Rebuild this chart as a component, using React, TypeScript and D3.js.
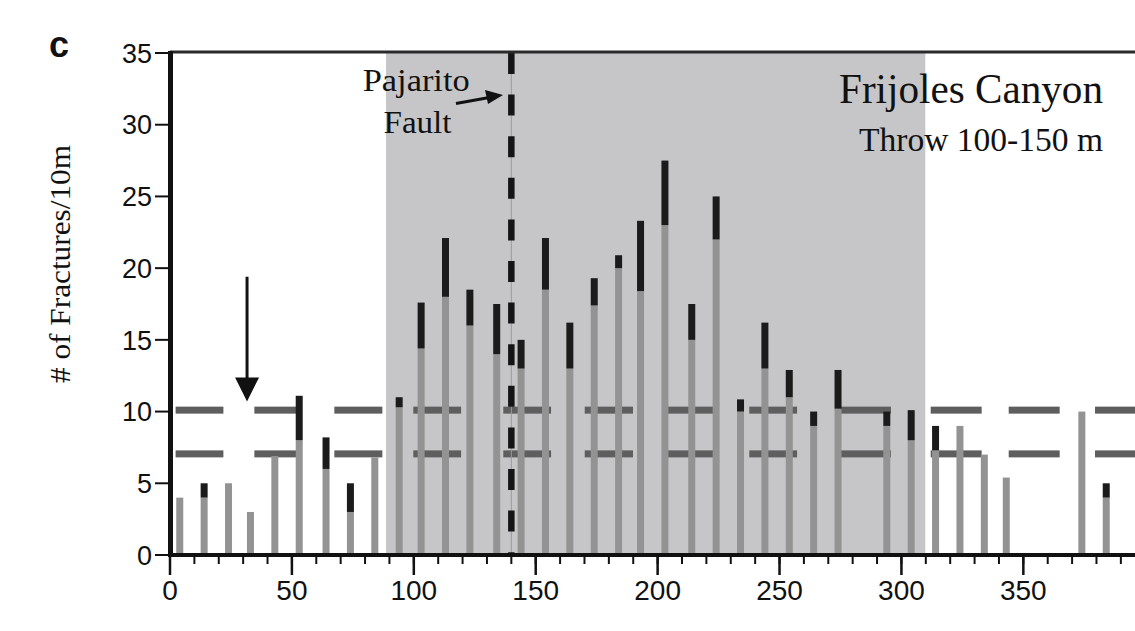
import React from "react";
import * as d3 from "d3";

// distance along transect (m)
const positions = [4, 14, 24, 33, 43, 53, 64, 74, 84, 94, 103, 113, 123, 134, 144, 154, 164, 174, 184, 193, 203, 214, 224, 234, 244, 254, 264, 274, 294, 304, 314, 324, 334, 343, 374, 384];
// lower (gray) part of each bar
const grayValues = [4, 4, 5, 3, 6.9, 8, 6, 3, 6.8, 10.3, 14.4, 18, 16, 14, 13, 18.5, 13, 17.4, 20, 18.4, 23, 15, 22, 10, 13, 11, 9, 10.2, 9, 8, 7.3, 9, 7, 5.4, 10, 4];
// total height (gray + black)
const totalValues = [4, 5, 5, 3, 6.9, 11.1, 8.2, 5, 6.8, 11, 17.6, 22.1, 18.5, 17.5, 15, 22.1, 16.2, 19.3, 20.9, 23.3, 27.5, 17.5, 25, 10.85, 16.2, 12.9, 10, 12.9, 10, 10.1, 9, 9, 7, 5.4, 10, 5];

const thresholdLevels = [10.1, 7.05];
const thresholdDashes: [number, number][] = [
  [2.3, 21.9], [34.6, 54.0], [67.4, 87.1], [99.8, 119.4], [136.7, 156.3], [170.1, 189.9],
  [202.7, 222.8], [237.6, 257.2], [275.1, 295.7], [312.0, 332.9], [344.0, 364.9], [379.4, 400],
];
const damageZone = [88.6, 309.8];
const faultPosition = 140;
const markerArrow = { x: 31.6, from: 19.4, to: 10.7 };

const yTicks = [0, 5, 10, 15, 20, 25, 30, 35];
const xMajorTicks = [0, 50, 100, 150, 200, 250, 300, 350];
const xMinorTicks = d3.range(0, 400, 10);

const title = "Frijoles Canyon";
const subtitle = "Throw 100-150 m";
const yLabel = "# of Fractures/10m";
const panelLabel = "c";

export default function App() {
  const W = 1135, H = 631;
  const x = d3.scaleLinear().domain([0, 395.8]).range([170, 1135]);
  const y = d3.scaleLinear().domain([0, 35]).range([555, 53]);
  const barW = 7;
  const serif = "'Liberation Serif', 'Times New Roman', serif";
  const sans = "'Liberation Sans', Arial, sans-serif";

  return (
    <svg width={W} height={H} style={{ position: "absolute", left: 0, top: 0, background: "#fff" }}>
      <defs>
        <clipPath id="plot">
          <rect x={170} y={40} width={W - 170} height={530} />
        </clipPath>
      </defs>
      {/* damage zone shading */}
      <rect x={x(damageZone[0])} y={y(35)} width={x(damageZone[1]) - x(damageZone[0])} height={y(0) - y(35)} fill="#c6c6c8" />

      {/* threshold dashed lines */}
      <g clipPath="url(#plot)">
        {thresholdLevels.map((lv) =>
          thresholdDashes.map(([a, b], i) => (
            <rect key={lv + "-" + i} x={x(a)} y={y(lv) - 3.5} width={x(b) - x(a)} height={7} fill="#5e5e5e" />
          ))
        )}
      </g>

      {/* bars */}
      <g>
        {positions.map((p, i) => (
          <g key={i}>
            <rect x={x(p) - barW / 2} y={y(grayValues[i])} width={barW} height={y(0) - y(grayValues[i])} fill="#939393" />
            {totalValues[i] > grayValues[i] && (
              <rect x={x(p) - barW / 2} y={y(totalValues[i])} width={barW} height={y(grayValues[i]) - y(totalValues[i])} fill="#1b1b1b" />
            )}
          </g>
        ))}
      </g>

      {/* fault line */}
      <line x1={x(faultPosition)} x2={x(faultPosition)} y1={y(35)} y2={y(0)} stroke="#9a9a9a" strokeWidth={1} />
      <line x1={x(faultPosition)} x2={x(faultPosition)} y1={y(35)} y2={y(0)} stroke="#151515" strokeWidth={6.5} strokeDasharray="21 20.6" />

      {/* axes */}
      <line x1={170} x2={W} y1={y(35) - 1} y2={y(35) - 1} stroke="#2a2a2a" strokeWidth={3} />
      <line x1={168} x2={W} y1={y(0)} y2={y(0)} stroke="#111" strokeWidth={4} />
      <line x1={170.5} x2={170.5} y1={y(35) - 2} y2={y(0) + 2} stroke="#111" strokeWidth={5} />
      {yTicks.map((t) => (
        <g key={"y" + t}>
          <line x1={155} x2={170} y1={y(t)} y2={y(t)} stroke="#111" strokeWidth={2} />
          <text x={152} y={y(t)} dy="0.36em" textAnchor="end" fontFamily={sans} fontSize={27} fill="#111">{t}</text>
        </g>
      ))}
      {xMinorTicks.map((t) => (
        <line key={"xm" + t} x1={x(t)} x2={x(t)} y1={y(0)} y2={y(0) + 9} stroke="#111" strokeWidth={2} />
      ))}
      {xMajorTicks.map((t) => (
        <g key={"x" + t}>
          <line x1={x(t)} x2={x(t)} y1={y(0)} y2={575} stroke="#111" strokeWidth={2.5} />
          <text x={x(t)} y={600} textAnchor="middle" fontFamily={sans} fontSize={28} fill="#111">{t}</text>
        </g>
      ))}

      {/* labels */}
      <text x={49} y={57} fontFamily={sans} fontWeight="bold" fontSize={36} fill="#111">{panelLabel}</text>
      <text transform={`translate(70,264) rotate(-90)`} textAnchor="middle" fontFamily={serif} fontSize={30} fill="#111" textLength={238} lengthAdjust="spacingAndGlyphs">{yLabel}</text>
      <text x={1103} y={103} textAnchor="end" fontFamily={serif} fontSize={42} fill="#111" textLength={264} lengthAdjust="spacingAndGlyphs">{title}</text>
      <text x={1103} y={150.5} textAnchor="end" fontFamily={serif} fontSize={33} fill="#111" textLength={244} lengthAdjust="spacingAndGlyphs">{subtitle}</text>
      <text x={362.7} y={90.5} fontFamily={serif} fontSize={32} fill="#111" textLength={107} lengthAdjust="spacingAndGlyphs">Pajarito</text>
      <text x={383.5} y={133} fontFamily={serif} fontSize={32} fill="#111" textLength={68} lengthAdjust="spacingAndGlyphs">Fault</text>

      {/* Pajarito arrow */}
      <line x1={456} y1={103.5} x2={488} y2={97.8} stroke="#111" strokeWidth={3} />
      <path d="M503,95 L485,90 L488,104 Z" fill="#111" />

      {/* marker arrow */}
      <line x1={x(markerArrow.x)} x2={x(markerArrow.x)} y1={y(markerArrow.from)} y2={y(markerArrow.to) - 20} stroke="#111" strokeWidth={3} />
      <path d={`M${x(markerArrow.x) - 12},${y(markerArrow.to) - 24} L${x(markerArrow.x) + 12},${y(markerArrow.to) - 24} L${x(markerArrow.x)},${y(markerArrow.to)} Z`} fill="#111" />
    </svg>
  );
}
